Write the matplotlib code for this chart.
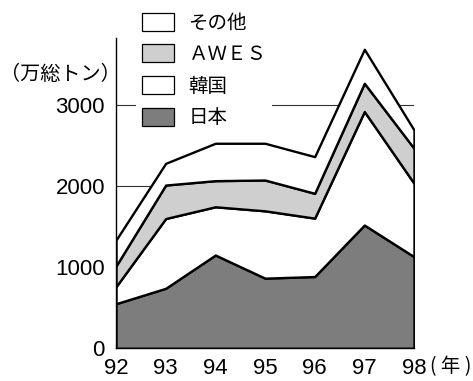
import matplotlib
matplotlib.use("Agg")
import matplotlib.pyplot as plt
from matplotlib.patches import Patch

years = [92, 93, 94, 95, 96, 97, 98]
japan = [550, 740, 1150, 865, 885, 1520, 1130]
korea = [210, 860, 595, 830, 720, 1400, 905]
awes = [255, 413, 322, 380, 306, 348, 431]
other = [320, 268, 461, 453, 452, 419, 226]
labels = ["日本", "韓国", "ＡＷＥＳ", "その他"]
colors = ["#7d7d7d", "white", "#cfcfcf", "white"]
yticks = [0, 1000, 2000, 3000]

plt.rcParams["font.family"] = ["Liberation Sans Narrow", "Liberation Sans", "Noto Sans CJK JP"]
jp = ["Noto Sans CJK JP", "DejaVu Sans"]

W, H = 473, 381
fig = plt.figure(figsize=(W / 100, H / 100), dpi=100)
ax = fig.add_axes([116 / W, 1 - 348.3 / H, (414 - 116) / W, (348.3 - 38) / H])

for y in yticks[1:]:
    ax.axhline(y, color="#333333", lw=0.8, zorder=0)

polys = ax.stackplot(years, japan, korea, awes, other, colors=colors,
                     edgecolor="black", linewidth=1.7, zorder=2)

ax.set_xlim(92, 98)
ax.set_ylim(0, 3826)
ax.set_xticks(years)
ax.set_xticklabels([str(y) for y in years])
ax.set_yticks(yticks)
ax.tick_params(axis="y", length=0, pad=8, labelsize=16)
ax.tick_params(axis="x", direction="in", length=3, pad=7, labelsize=16)
for s in ["top", "right"]:
    ax.spines[s].set_visible(False)
ax.spines["left"].set_linewidth(1.0)
ax.spines["bottom"].set_linewidth(1.0)

handles = [Patch(facecolor=c, edgecolor="black", linewidth=0.9) for c in colors]
leg = ax.legend(handles[::-1], labels[::-1], loc="upper left",
                bbox_to_anchor=(136 / W, 1 - 6.5 / H), bbox_transform=fig.transFigure,
                prop={"family": jp, "size": 14}, handlelength=1.65, handleheight=1.05,
                labelspacing=0.55, handletextpad=0.75, borderpad=0.3, borderaxespad=0,
                frameon=True, fancybox=False, framealpha=1)
leg.get_frame().set_edgecolor("none")
leg.set_zorder(5)

fig.text(0 / W, 1 - 75 / H, "（万総トン）", family=jp, fontsize=14.5, va="center", ha="left")
fig.text(430 / W, 1 - 367 / H, "( 年 )", family=jp, fontsize=14, va="center", ha="left")

fig.savefig("out.png", dpi=100)
